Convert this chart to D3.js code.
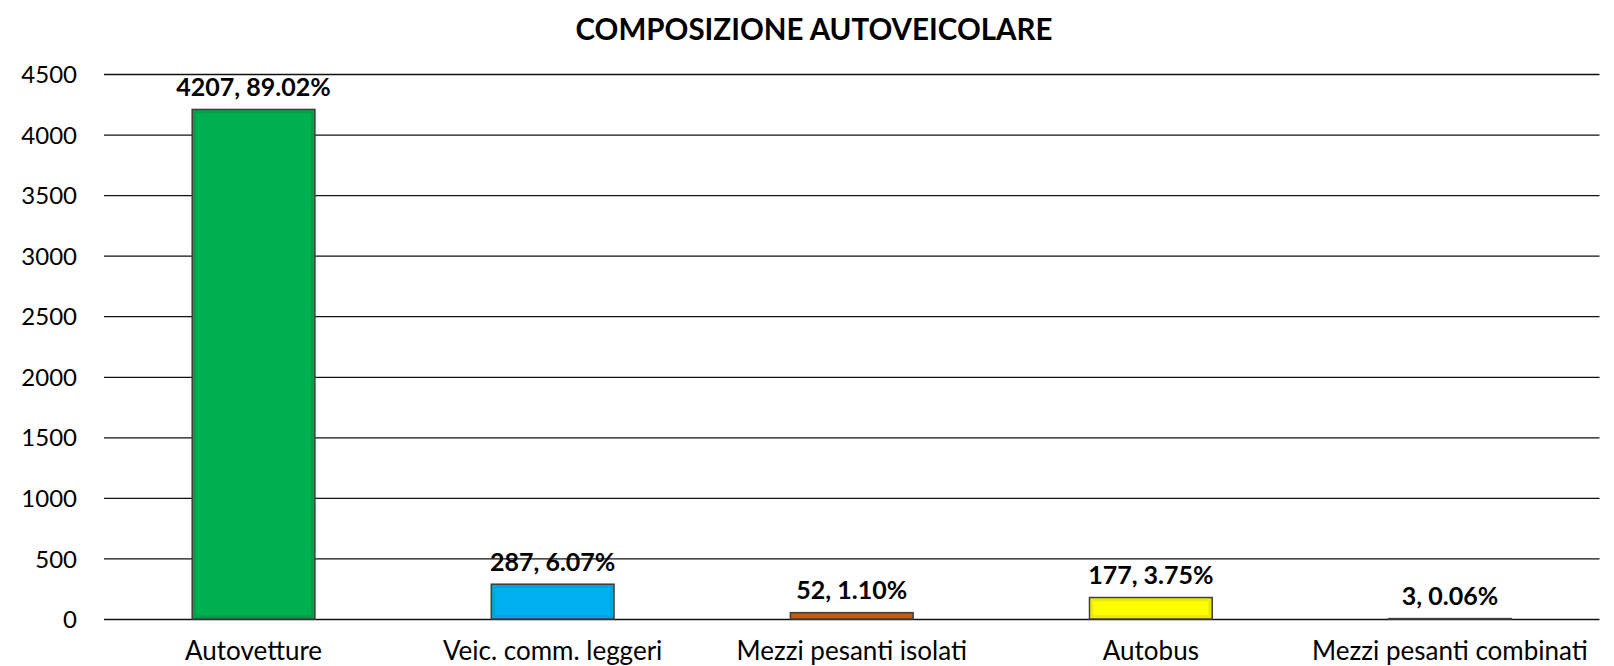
<!DOCTYPE html>
<html>
<head>
<meta charset="utf-8">
<script src="https://cdn.jsdelivr.net/npm/d3@7"></script>
<style>
  html, body { margin: 0; padding: 0; background: #ffffff; }
  svg { display: block; }
  text { font-family: Lato, "Liberation Sans", sans-serif; fill: #000; }
</style>
</head>
<body>
<svg id="chart" width="1614" height="666"></svg>
<script>
// Vehicle mix: counts per category
const categories = ["Autovetture", "Veic. comm. leggeri", "Mezzi pesanti isolati", "Autobus", "Mezzi pesanti combinati"];
const counts = [4207, 287, 52, 177, 3];
const barColors = ["#00B050", "#00B0F0", "#C55A11", "#FFFF00", "#262626"];
const edgeColors = ["#00994A", "#0A9FD8", "#B0500F", "#E8E400", "#262626"];
const yTicks = [0, 500, 1000, 1500, 2000, 2500, 3000, 3500, 4000, 4500];
const chartTitle = "COMPOSIZIONE AUTOVEICOLARE";

const W = 1614, H = 666;
const plot = { left: 104, right: 1599.5, top: 74, bottom: 619 };

const svg = d3.select("#chart");

const x = d3.scaleBand()
  .domain(categories)
  .range([plot.left, plot.right])
  .paddingInner(0.59)
  .paddingOuter(0.295);

const y = d3.scaleLinear()
  .domain([0, 4500])
  .range([plot.bottom, plot.top]);

const total = d3.sum(counts);
const pct = d3.format(".2%");

// Title
svg.append("text")
  .attr("x", 814)
  .attr("y", 39.5)
  .attr("text-anchor", "middle")
  .style("font-size", "29.5px")
  .style("font-weight", "700")
  .text(chartTitle);

// Horizontal gridlines with value labels on the left
const yAxis = d3.axisLeft(y)
  .tickValues(yTicks)
  .tickSize(-(plot.right - plot.left))
  .tickPadding(27)
  .tickFormat(d3.format("d"));

const gy = svg.append("g")
  .attr("transform", `translate(${plot.left},0)`)
  .call(yAxis);
gy.select(".domain").remove();
gy.selectAll(".tick line")
  .attr("stroke", "#111")
  .attr("stroke-width", 1.3);
gy.selectAll(".tick text")
  .style("font-size", "24px")
  .style("font-family", "Lato, 'Liberation Sans', sans-serif")
  .attr("fill", "#000")
  .attr("dy", "0.36em");

// Category labels under the bars
const xAxis = d3.axisBottom(x).tickSize(0).tickPadding(0);
const gx = svg.append("g")
  .attr("transform", `translate(0,${plot.bottom})`)
  .call(xAxis);
gx.select(".domain").remove();
gx.selectAll(".tick text")
  .style("font-size", "26px")
  .style("font-family", "Lato, 'Liberation Sans', sans-serif")
  .attr("fill", "#000")
  .attr("y", 41)
  .attr("dy", 0);

// Bars
const rows = categories.map((c, i) => ({ c, v: counts[i], i }));
const bars = svg.append("g");

bars.selectAll("rect.bar")
  .data(rows)
  .join("rect")
  .attr("class", "bar")
  .attr("x", d => x(d.c))
  .attr("y", d => y(d.v))
  .attr("width", x.bandwidth())
  .attr("height", d => y(0) - y(d.v))
  .attr("fill", d => barColors[d.i])
  .attr("stroke", "#404040")
  .attr("stroke-width", 1.6);

// Soft inner edge on each bar
bars.selectAll("rect.edge")
  .data(rows.filter(d => y(0) - y(d.v) > 8))
  .join("rect")
  .attr("class", "edge")
  .attr("x", d => x(d.c) + 2.5)
  .attr("y", d => y(d.v) + 2.5)
  .attr("width", x.bandwidth() - 5)
  .attr("height", d => y(0) - y(d.v) - 5)
  .attr("fill", "none")
  .attr("stroke", d => edgeColors[d.i])
  .attr("stroke-width", 2.5)
  .attr("opacity", 0.8);

// Value labels: count and share of total
svg.append("g")
  .selectAll("text")
  .data(rows)
  .join("text")
  .attr("x", d => x(d.c) + x.bandwidth() / 2)
  .attr("y", d => y(d.v) - 13.5)
  .attr("text-anchor", "middle")
  .style("font-size", "25px")
  .style("font-weight", "700")
  .text(d => `${d.v}, ${pct(d.v / total)}`);
</script>
</body>
</html>
